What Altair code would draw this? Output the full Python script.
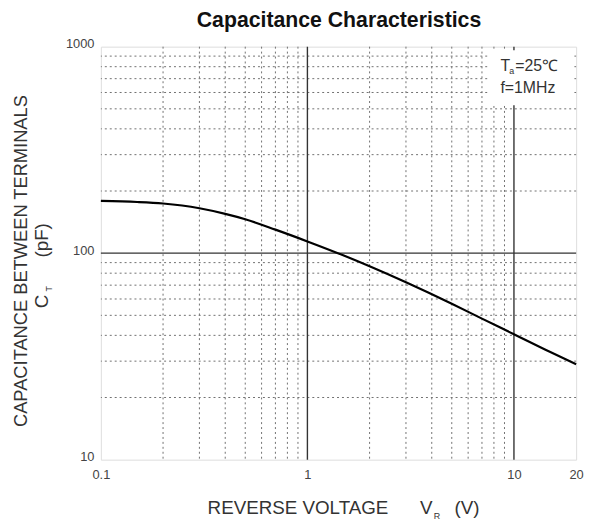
import altair as alt
import pandas as pd

# ---- data ----
voltage = [0.1, 0.15, 0.2, 0.3, 0.4, 0.5, 0.7, 1, 1.5, 2, 3, 5, 7, 10, 15, 20]
capacitance = [179, 177, 174, 165, 155, 146, 130, 114, 97.4, 86.4, 72.3, 56.9, 48.2, 40.5, 33.2, 29]

x_major = [1, 10]
x_minor = [0.2, 0.3, 0.4, 0.5, 0.6, 0.7, 0.8, 0.9, 2, 3, 4, 5, 6, 7, 8, 9]
y_major = [100]
y_minor = [20, 30, 40, 50, 60, 70, 80, 90, 200, 300, 400, 500, 600, 700, 800, 900]
x_ticks = [0.1, 1, 10, 20]
y_ticks = [10, 100, 1000]

note_box_x = [7.6, 19.6]
note_box_y = [520, 960]
note_x = [8.6]
note_y = [810, 630]

FONT = "Liberation Sans"
W, H = 481, 418

xs = alt.Scale(type="log", domain=[0.1, 20], nice=False)
ys = alt.Scale(type="log", domain=[10, 1000], nice=False)

x_axis = alt.Axis(
    title="", values=x_ticks, format="~g", grid=False, ticks=False, domain=False,
    labelFont=FONT, labelFontSize=13, labelColor="#444", labelPadding=9,
    labelOverlap=False, labelFlush=False)
y_axis = alt.Axis(
    title="", values=y_ticks, format="~g", grid=False, ticks=False, domain=False,
    labelFont=FONT, labelFontSize=13, labelColor="#444", labelPadding=7,
    labelOverlap=False, labelFlush=False, labelOffset=-3)

curve_df = pd.DataFrame({"v": voltage, "c": capacitance})

vminor = alt.Chart(pd.DataFrame({"v": x_minor})).mark_rule(
    color="#707070", strokeWidth=1, strokeDash=[2, 3]
).encode(x=alt.X("v:Q", scale=xs, axis=x_axis))
hminor = alt.Chart(pd.DataFrame({"c": y_minor})).mark_rule(
    color="#707070", strokeWidth=1, strokeDash=[2, 3]
).encode(y=alt.Y("c:Q", scale=ys, axis=y_axis))
vmajor = alt.Chart(pd.DataFrame({"v": x_major})).mark_rule(
    color="#333333", strokeWidth=1.4
).encode(x=alt.X("v:Q", scale=xs, axis=x_axis))
hmajor = alt.Chart(pd.DataFrame({"c": y_major})).mark_rule(
    color="#333333", strokeWidth=1.4
).encode(y=alt.Y("c:Q", scale=ys, axis=y_axis))

box = alt.Chart(pd.DataFrame({"x1": [note_box_x[0]], "x2": [note_box_x[1]],
                              "y1": [note_box_y[0]], "y2": [note_box_y[1]]})).mark_rect(
    color="white"
).encode(
    x=alt.X("x1:Q", scale=xs, axis=x_axis), x2="x2:Q",
    y=alt.Y("y1:Q", scale=ys, axis=y_axis), y2="y2:Q",
)

curve = alt.Chart(curve_df).mark_line(color="black", strokeWidth=2.2, interpolate="monotone").encode(
    x=alt.X("v:Q", scale=xs, axis=x_axis),
    y=alt.Y("c:Q", scale=ys, axis=y_axis),
)

note_df = pd.DataFrame({"x": note_x * 2, "y": note_y, "t": ["T", "f=1MHz"]})
note1 = alt.Chart(note_df).mark_text(
    font=FONT, fontSize=16, color="#333", align="left", baseline="middle"
).encode(x=alt.X("x:Q", scale=xs, axis=x_axis), y=alt.Y("y:Q", scale=ys, axis=y_axis), text="t:N")
note_sub = alt.Chart(pd.DataFrame({"x": note_x, "y": [note_y[0]], "t": ["a"]})).mark_text(
    font=FONT, fontSize=9, color="#333", align="left", baseline="middle", dx=9, dy=6
).encode(x=alt.X("x:Q", scale=xs, axis=x_axis), y=alt.Y("y:Q", scale=ys, axis=y_axis), text="t:N")
note_rest = alt.Chart(pd.DataFrame({"x": note_x, "y": [note_y[0]], "t": ["=25℃"]})).mark_text(
    font=FONT, fontSize=16, color="#333", align="left", baseline="middle", dx=15
).encode(x=alt.X("x:Q", scale=xs, axis=x_axis), y=alt.Y("y:Q", scale=ys, axis=y_axis), text="t:N")


def label(text, x, y, size, angle=0, align="center", bold=False, color="#333"):
    return alt.Chart(pd.DataFrame({"t": [text]})).mark_text(
        font=FONT, fontSize=size, color=color, align=align, baseline="middle",
        angle=angle, fontWeight="bold" if bold else "normal"
    ).encode(x=alt.value(x), y=alt.value(y), text="t:N")


title = label("Capacitance Characteristics", 241, -26, 21.5, bold=True, color="#111")
xt1 = label("REVERSE VOLTAGE", 108, 467, 19, align="left")
xt2 = label("V", 323, 467, 19, align="left")
xt3 = label("R", 337, 475, 9, align="left")
xt4 = label("(V)", 358, 467, 19, align="left")
yt1 = label("CAPACITANCE BETWEEN TERMINALS", -81, 217, 18.5, angle=270)
yt2 = label("C", -60, 258, 19, angle=270)
yt3 = label("T", -52, 245, 9, angle=270)
yt4 = label("(pF)", -60, 196, 19, angle=270)

chart = alt.layer(
    vminor, hminor, vmajor, hmajor, box, curve, note1, note_sub, note_rest,
    title, xt1, xt2, xt3, xt4, yt1, yt2, yt3, yt4
).properties(
    width=W, height=H,
    autosize=alt.AutoSizeParams(type="none"),
    padding={"left": 94, "top": 36, "right": 10, "bottom": 65},
).configure_view(stroke="#333333", strokeWidth=1.5).configure(background="white")

chart.save("out.html", embed_options={"renderer": "svg", "actions": False})
